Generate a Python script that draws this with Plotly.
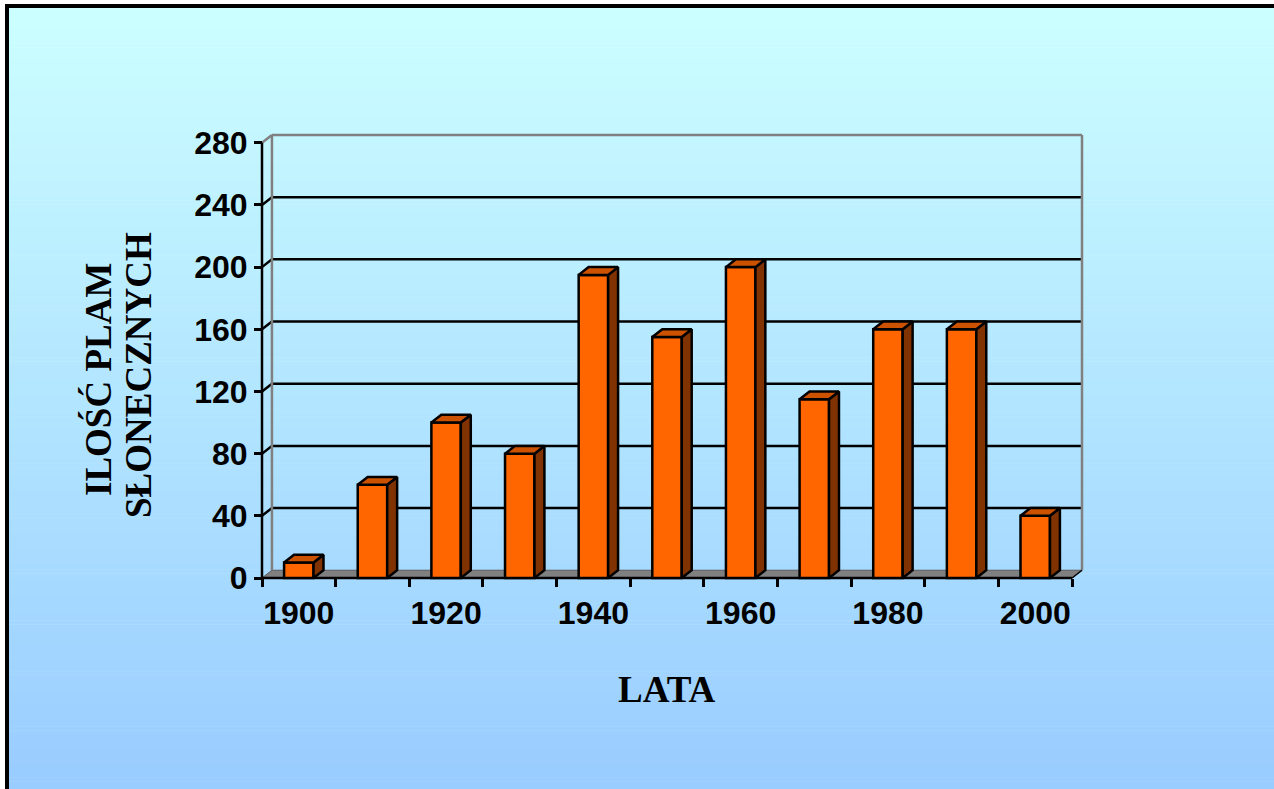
import plotly.graph_objects as go

# Sunspot counts per decade
years = [1900, 1910, 1920, 1930, 1940, 1950, 1960, 1970, 1980, 1990, 2000]
sunspots = [10, 60, 100, 80, 195, 155, 200, 115, 160, 160, 40]
y_ticks = [0, 40, 80, 120, 160, 200, 240, 280]
label_years = [1900, 1920, 1940, 1960, 1980, 2000]
label_text = [str(y) for y in label_years]

W, H = 1274, 789

# pseudo-3D depth of the chart box, in data units
DEPTH_X = 1.35
DEPTH_Y = 5.0
BAR_W = 4.0

x_lo, x_front_hi = 1895, 2005
x_hi = x_front_hi + DEPTH_X
y_lo, y_top = 0, 280
y_hi = y_top + DEPTH_Y

# frame of the chart box in pixels (front-left axis to back-right wall)
X0_PX, X1_PX = 262, 1082
Y0_PX, Y1_PX = 578, 135
PAD = 6

sx = (X1_PX - X0_PX) / (x_hi - x_lo)
sy = (Y0_PX - Y1_PX) / (y_hi - y_lo)

m_l = X0_PX - PAD
m_r = W - X1_PX - PAD
m_t = Y1_PX - PAD
m_b = H - Y0_PX - PAD
pw = W - m_l - m_r
ph = H - m_t - m_b


def px_x(px):
    return (px - m_l) / pw


def px_y(py):
    return (H - m_b - py) / ph


shapes = []

# slide background: vertical gradient from pale cyan to light blue
top_c = (204, 255, 255)
bot_c = (153, 204, 255)
g_top, g_bot = 4, H
n_strips = 200
step = (g_bot - g_top) / n_strips
for i in range(n_strips):
    t = (i + 0.5) / n_strips
    c = tuple(round(a + (b - a) * t) for a, b in zip(top_c, bot_c))
    shapes.append(dict(
        type="rect", xref="paper", yref="paper", layer="below",
        x0=px_x(5), x1=px_x(W + 2),
        y0=px_y(g_top + i * step), y1=px_y(g_top + (i + 1) * step + 0.6),
        fillcolor=f"rgb{c}", line=dict(width=0),
    ))

WALL_GRAY = "#808080"

# floor
shapes.append(dict(
    type="path", xref="x", yref="y", layer="below",
    path=(f"M {x_lo},{0} L {x_front_hi},{0} L {x_hi},{DEPTH_Y} "
          f"L {x_lo + DEPTH_X},{DEPTH_Y} Z"),
    fillcolor=WALL_GRAY, line=dict(color="#5a5a5a", width=1),
))

# back wall gridlines and their left-wall connectors
for v in y_ticks[1:]:
    col = WALL_GRAY if v == y_top else "black"
    w = 2.5
    shapes.append(dict(type="line", xref="x", yref="y", layer="below",
                       x0=x_lo + DEPTH_X, x1=x_hi, y0=v + DEPTH_Y, y1=v + DEPTH_Y,
                       line=dict(color=col, width=w)))
    shapes.append(dict(type="line", xref="x", yref="y", layer="below",
                       x0=x_lo, x1=x_lo + DEPTH_X, y0=v, y1=v + DEPTH_Y,
                       line=dict(color=col, width=w)))

# back wall side edges
for xe in (x_lo + DEPTH_X, x_hi):
    shapes.append(dict(type="line", xref="x", yref="y", layer="below",
                       x0=xe, x1=xe, y0=DEPTH_Y, y1=y_top + DEPTH_Y,
                       line=dict(color=WALL_GRAY, width=2.5)))

# front axis lines
shapes.append(dict(type="line", xref="x", yref="y", layer="below",
                   x0=x_lo, x1=x_lo, y0=0, y1=y_top,
                   line=dict(color="black", width=2.5)))
shapes.append(dict(type="line", xref="x", yref="y", layer="below",
                   x0=x_lo, x1=x_front_hi, y0=0, y1=0,
                   line=dict(color="black", width=2.5)))
shapes.append(dict(type="line", xref="x", yref="y", layer="below",
                   x0=x_front_hi, x1=x_hi, y0=0, y1=DEPTH_Y,
                   line=dict(color="black", width=1.5)))

# slide frame
shapes.append(dict(type="rect", xref="paper", yref="paper", layer="above",
                   x0=px_x(5), x1=px_x(W + 2), y0=px_y(8), y1=px_y(4),
                   fillcolor="black", line=dict(width=0)))
shapes.append(dict(type="rect", xref="paper", yref="paper", layer="above",
                   x0=px_x(5), x1=px_x(9), y0=px_y(H + 2), y1=px_y(4),
                   fillcolor="black", line=dict(width=0)))

# side and top faces of the columns
side_x, side_y, top_x, top_y = [], [], [], []
for yr, v in zip(years, sunspots):
    xl = yr - BAR_W / 2
    xr = yr + BAR_W / 2
    side_x += [xr, xr + DEPTH_X, xr + DEPTH_X, xr, xr, None]
    side_y += [0, DEPTH_Y, v + DEPTH_Y, v, 0, None]
    top_x += [xl, xr, xr + DEPTH_X, xl + DEPTH_X, xl, None]
    top_y += [v, v, v + DEPTH_Y, v + DEPTH_Y, v, None]

fig = go.Figure()
fig.add_trace(go.Bar(
    x=years, y=sunspots, width=BAR_W,
    marker=dict(color="#FF6600", line=dict(color="black", width=2.5)),
    hoverinfo="x+y", showlegend=False,
))
fig.add_trace(go.Scatter(
    x=side_x, y=side_y, mode="lines", fill="toself", fillcolor="#803300",
    line=dict(color="black", width=2.5), hoverinfo="skip", showlegend=False,
))
fig.add_trace(go.Scatter(
    x=top_x, y=top_y, mode="lines", fill="toself", fillcolor="#CC5200",
    line=dict(color="black", width=2.5), hoverinfo="skip", showlegend=False,
))

tick_font = dict(family="Liberation Sans, Arial, sans-serif", size=32,
                 color="black", weight="bold")
title_font = dict(family="Liberation Serif, Times New Roman, serif",
                  size=37, color="black")
boundaries = [x_lo + 10 * i for i in range(12)]

fig.update_layout(
    width=W, height=H,
    margin=dict(l=m_l, r=m_r, t=m_t, b=m_b, pad=0),
    paper_bgcolor="white", plot_bgcolor="rgba(0,0,0,0)",
    shapes=shapes,
    xaxis=dict(
        type="linear", range=[x_lo - PAD / sx, x_hi + PAD / sx],
        anchor="free", position=PAD / ph,
        showgrid=False, zeroline=False, showline=False,
        tickmode="array", tickvals=label_years, ticktext=label_text,
        ticks="", tickfont=tick_font, ticklabelstandoff=13,
        minor=dict(tickmode="array", tickvals=boundaries, ticks="outside",
                   ticklen=8, tickwidth=2.5, tickcolor="black", showgrid=False),
    ),
    yaxis=dict(
        range=[y_lo - PAD / sy, y_hi + PAD / sy],
        anchor="free", position=PAD / pw,
        showgrid=False, zeroline=False, showline=False,
        tickmode="array", tickvals=y_ticks, ticks="outside",
        ticklen=8, tickwidth=2.5, tickcolor="black", tickfont=tick_font,
    ),
    annotations=[
        dict(text="<b>LATA</b>", xref="paper", yref="paper",
             x=px_x(667), y=px_y(689), xanchor="center", yanchor="middle",
             showarrow=False, font=title_font),
        dict(text="<b>ILOŚĆ PLAM</b>", xref="paper", yref="paper",
             x=px_x(98), y=px_y(380), xanchor="center", yanchor="middle",
             textangle=-90, showarrow=False, font=title_font),
        dict(text="<b>SŁONECZNYCH</b>", xref="paper", yref="paper",
             x=px_x(138), y=px_y(375), xanchor="center", yanchor="middle",
             textangle=-90, showarrow=False, font=title_font),
    ],
)

fig.write_html("out.html")
